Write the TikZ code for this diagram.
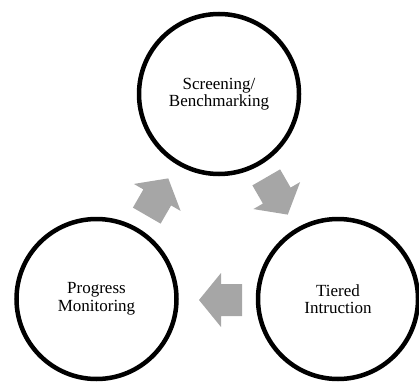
\documentclass[tikz,border=0pt]{standalone}
\usepackage{fontspec}
\setmainfont{Liberation Serif}
\definecolor{arrowgray}{RGB}{166,166,166}
\begin{document}
\begin{tikzpicture}[x=1pt,y=1pt,
  stage/.style={circle, draw=black, line width=4.5pt, minimum size=160pt, inner sep=0pt,
    align=center, font=\fontsize{17}{17.5}\selectfont},
  blockarrow/.style={fill=arrowgray, draw=none}]
\useasboundingbox (0,0) rectangle (419,383);
\node[stage] (screen) at (219,289) {Screening/\\Benchmarking};
\node[stage] (tiered) at (338,84) {Tiered\\Intruction};
\node[stage] (progress) at (96.5,84) {Progress\\Monitoring};
\coordinate (a1) at (277,187);
\coordinate (a2) at (220.5,83);
\coordinate (a3) at (157.5,186);
\foreach \c/\ang in {a1/-60, a2/180, a3/60}{
  \fill[blockarrow, shift={(\c)}, rotate=\ang]
    (21.5,0) -- (-0.5,27) -- (-0.5,16) -- (-21.5,16) -- (-21.5,-16) -- (-0.5,-16) -- (-0.5,-27) -- cycle;
}
\end{tikzpicture}
\end{document}
